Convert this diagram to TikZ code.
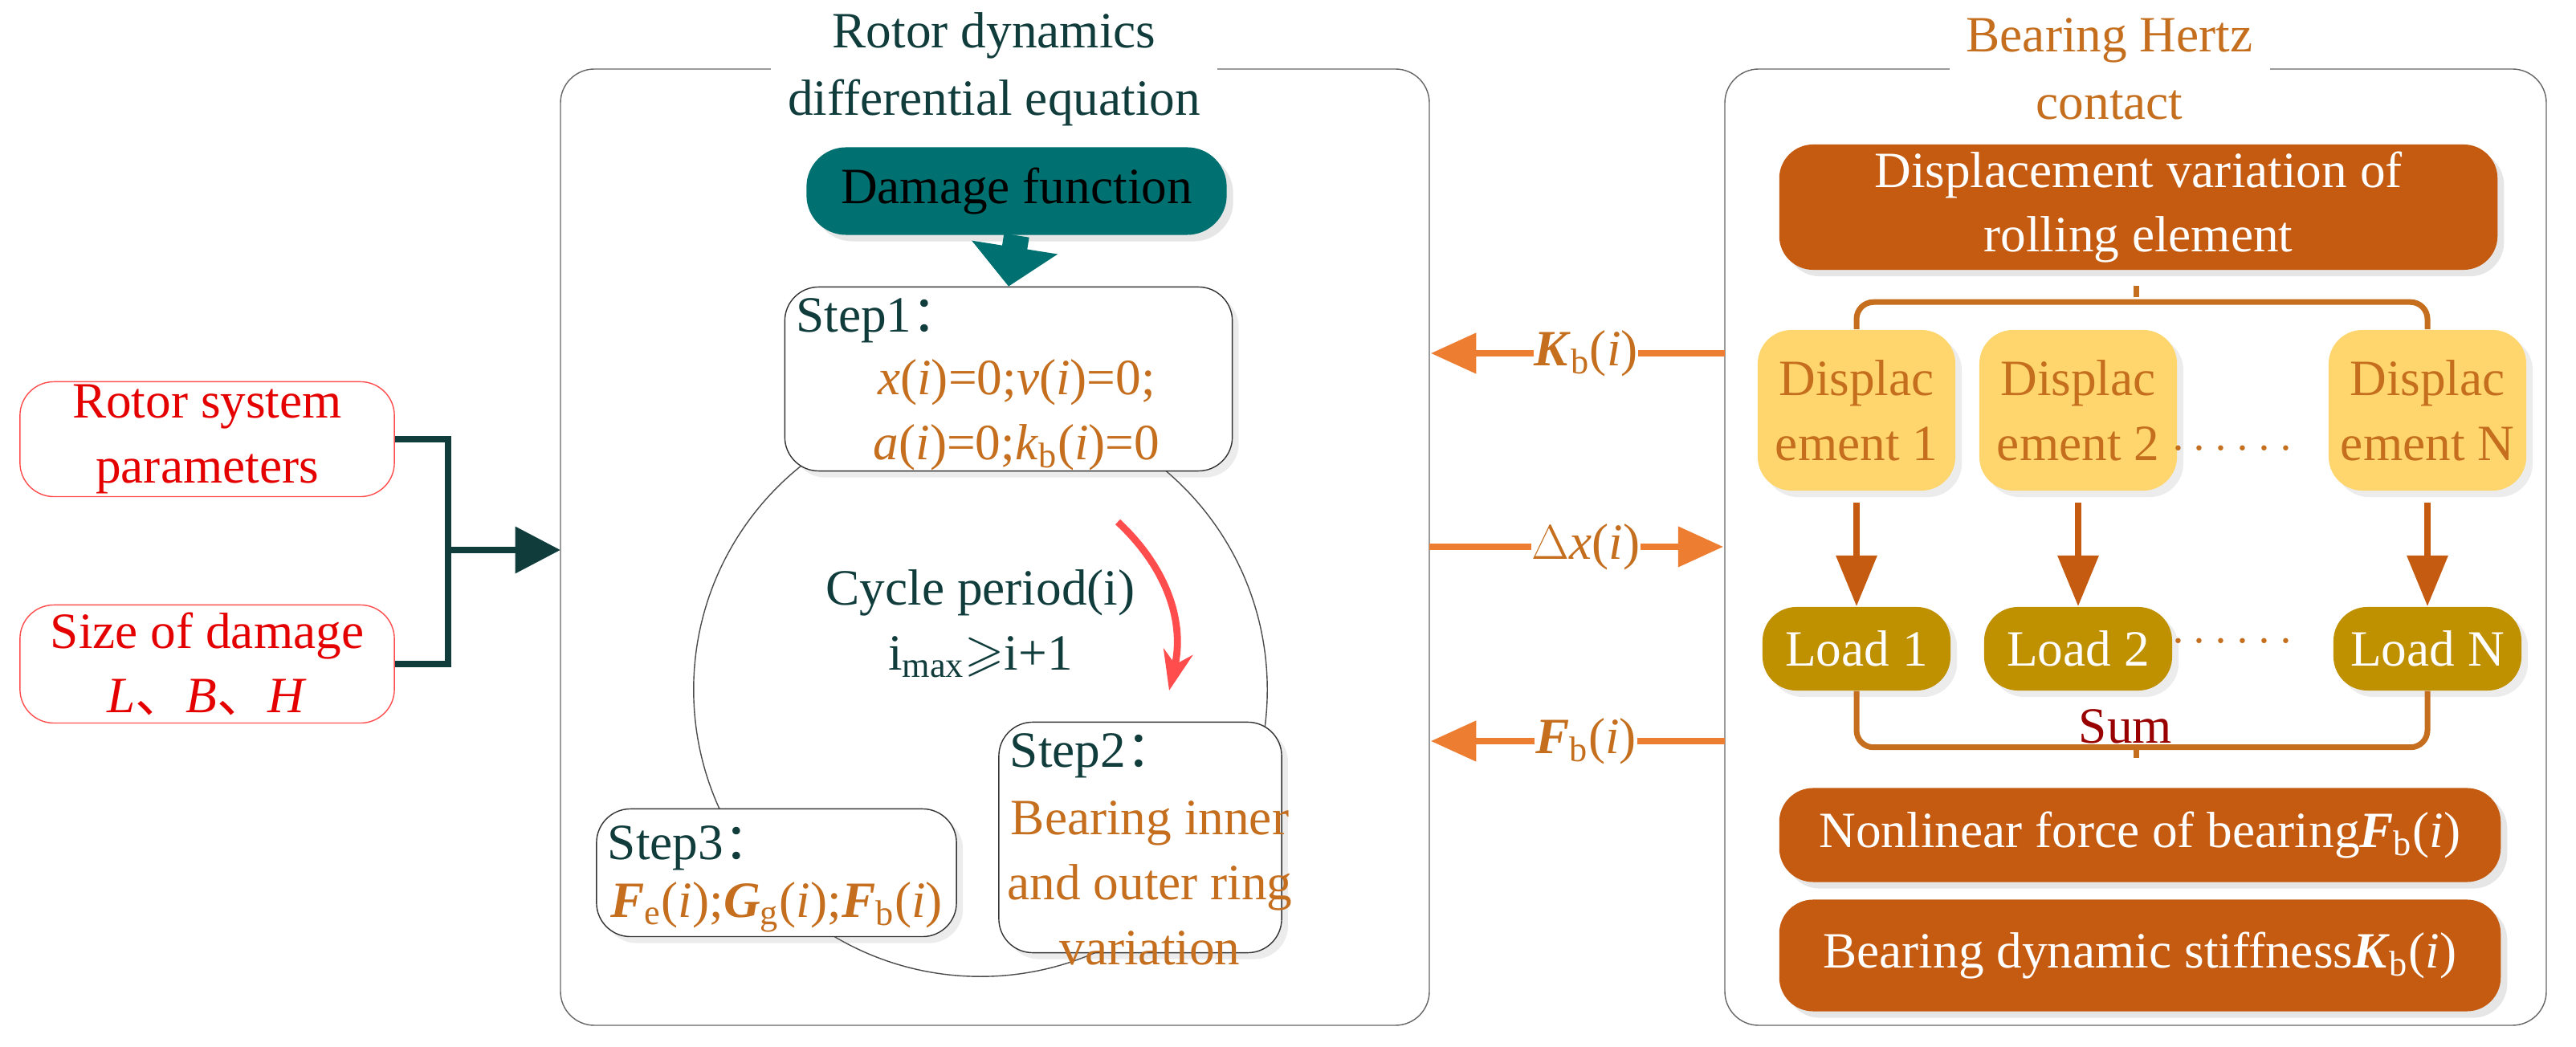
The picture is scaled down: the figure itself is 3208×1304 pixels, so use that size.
\documentclass[tikz,border=0pt]{standalone}
\usepackage{amssymb}
\usepackage{fontspec}
\setmainfont{Liberation Serif}
\newfontfamily\cjk{Noto Sans CJK SC}
\usetikzlibrary{arrows.meta,shadows}
\definecolor{deepteal}{RGB}{16,60,60}
\definecolor{tealbox}{RGB}{0,112,112}
\definecolor{rust}{RGB}{197,90,17}
\definecolor{ochre}{RGB}{191,144,0}
\definecolor{amber}{RGB}{255,214,110}
\definecolor{tangerine}{RGB}{237,125,49}
\definecolor{brownish}{RGB}{196,110,30}
\newcommand{\iv}{(\textit{i})}
\newcommand{\bvec}[2]{\textbf{\textit{#1}}\textsubscript{#2}}
\newcommand{\dun}{{\cjk 、}}
\newcommand{\colo}{{\cjk ：}}
\tikzset{
  every node/.style={font=\fontsize{18}{23}\selectfont, align=center, inner sep=0pt},
  panel/.style={draw=gray!80!black, rounded corners=12pt, thin},
  ptitle/.style={fill=white, inner xsep=6pt, font=\fontsize{18}{24}\selectfont},
  redbox/.style={draw=red!70, rounded corners=12pt, text=red!90!black},
  stepbox/.style={draw=black!80, fill=white, rounded corners=12pt, drop shadow={opacity=0.15}},
  rustbox/.style={fill=rust, text=white, rounded corners=12pt, drop shadow={opacity=0.2}},
  amberbox/.style={fill=amber, text=brownish, rounded corners=12pt, drop shadow={opacity=0.15}},
  ochrebox/.style={fill=ochre, text=white, rounded corners=12pt, drop shadow={opacity=0.15}},
  oarrow/.style={draw=tangerine, line width=2pt, -{Triangle[length=16pt,width=14pt]}},
  ostem/.style={draw=tangerine, line width=2pt},
  brace/.style={draw=brownish, line width=2pt, rounded corners=6pt},
}
\begin{document}
\begin{tikzpicture}[x=0.01cm, y=-0.01cm]
\useasboundingbox (0,0) rectangle (3208,1304);

% left inputs
\node[redbox, minimum width=4.66cm, minimum height=1.43cm] (rsp) at (258,547) {Rotor system\\parameters};
\node[redbox, minimum width=4.66cm, minimum height=1.47cm] (sod) at (258,827) {Size of damage\\\textit{L}\dun\textit{B}\dun\textit{H}};
\coordinate (join) at (558,685);
\draw[deepteal, line width=2.5pt] (rsp.east) -| (join) |- (sod.east);

% rotor panel
\draw[panel] (698,86) rectangle (1780,1277);
\node[ptitle, text=deepteal] (rtitle) at (1238,86) {Rotor dynamics\\differential equation};
\draw[deepteal, line width=2.5pt, -{Triangle[length=16pt,width=16pt]}] (join) -- (698,685);

\draw[black!70, thin] (1221,859) circle (3.57cm);
\node[text=deepteal] (cycle) at (1221,777) {Cycle period(i)\\i\textsubscript{max}$\geqslant$i+1};
\draw[red!70, line width=2.5pt, -{Stealth[length=14pt]}] (1392,650) to[bend left=30] (1456,860);

\node[fill=tealbox, rounded corners=14pt, minimum width=5.23cm, minimum height=1.09cm, drop shadow={opacity=0.2}] (dmg) at (1266,238) {Damage function};
\node[stepbox, minimum width=5.57cm, minimum height=2.29cm] (s1) at (1256,472) {};
\node[anchor=north west, text=deepteal] at (s1.north west) [xshift=4pt, yshift=-4pt] {Step1\colo};
\node[text=brownish] (s1t) at (1266,517) {\textit{x}\iv=0;\textit{v}\iv=0;\\\textit{a}\iv=0;\textit{k}\textsubscript{b}\iv=0};
\draw[tealbox, line width=9pt, -{Triangle[length=14pt,width=30pt]}] (dmg.south) -- (s1.north);

\node[stepbox, minimum width=3.52cm, minimum height=2.87cm] (s2) at (1420,1043) {};
\node[anchor=north west, text=deepteal] at (s2.north west) [xshift=4pt, yshift=-4pt] {Step2\colo};
\node[text=brownish] (s2t) at (1432,1100) {Bearing inner\\and outer ring\\variation};
\node[stepbox, minimum width=4.48cm, minimum height=1.59cm] (s3) at (967,1087) {};
\node[anchor=north west, text=deepteal] at (s3.north west) [xshift=4pt, yshift=-6pt] {Step3\colo};
\node[text=brownish] (s3t) at (967,1130) {\bvec{F}{e}\iv;\bvec{G}{g}\iv;\bvec{F}{b}\iv};

% bearing panel
\draw[panel] (2148,86) rectangle (3171,1277);
\node[ptitle, text=brownish] (btitle) at (2627,86) {Bearing Hertz\\contact};
\node[rustbox, minimum width=8.94cm, minimum height=1.56cm] (dv) at (2663,258) {Displacement variation of\\rolling element};
\foreach \n/\x in {1/2312, 2/2588, N/3023} {
  \node[amberbox, minimum width=2.46cm, minimum height=2cm] (d\n) at (\x,511) {Displac\\ement \n};
  \node[ochrebox, minimum width=2.34cm, minimum height=1.04cm] (l\n) at (\x,808) {Load \n};
  \draw[draw=rust, line width=2.5pt, -{Triangle[length=18pt,width=14pt]}] (\x,626) -- (l\n.north);
}
\node[text=brownish] (ddots) at (2780,560) {$\cdots\cdots$};
\node[text=brownish] (ldots) at (2780,800) {$\cdots\cdots$};
\draw[brace] (d1.north) -- ++(0,-34) -| (dN.north);
\draw[brace] (2660,370) -- ++(0,-14);
\draw[brace] (l1.south) -- ++(0,70) -| (lN.south);
\draw[brace] (2660,930) -- ++(0,14);
\node[text=red!60!black] (sum) at (2647,905) {Sum};
\node[rustbox, minimum width=8.98cm, minimum height=1.17cm] (nf) at (2665,1040) {Nonlinear force of bearing\bvec{F}{b}\iv};
\node[rustbox, minimum width=8.98cm, minimum height=1.39cm] (ds) at (2665,1190) {Bearing dynamic stiffness\bvec{K}{b}\iv};

% exchange between panels
\node[text=brownish] (kb) at (1975,440) {\bvec{K}{b}\iv};
\draw[ostem] (2148,440) -- (kb.east);
\draw[oarrow] (kb.west) -- (1782,440);
\node[text=brownish] (dx) at (1975,681) {$\Delta$\textit{x}\iv};
\draw[ostem] (1780,681) -- (dx.west);
\draw[oarrow] (dx.east) -- (2146,681);
\node[text=brownish] (fb) at (1975,923) {\bvec{F}{b}\iv};
\draw[ostem] (2148,923) -- (fb.east);
\draw[oarrow] (fb.west) -- (1782,923);
\end{tikzpicture}
\end{document}
